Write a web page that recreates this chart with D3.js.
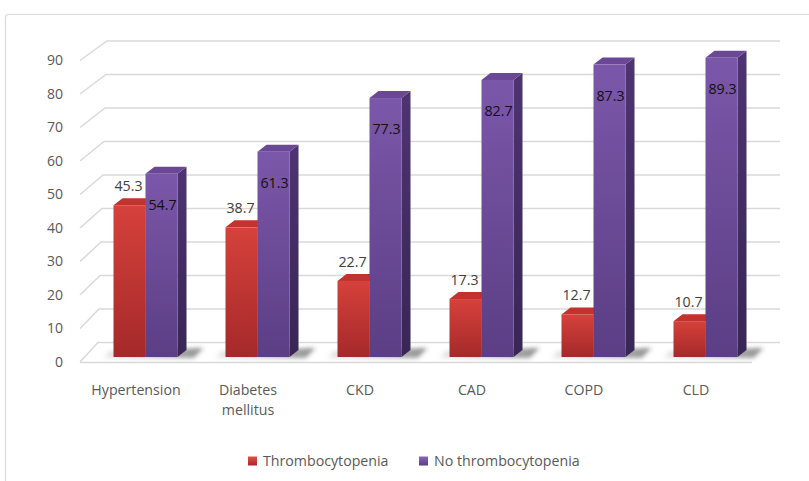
<!DOCTYPE html>
<html>
<head>
<meta charset="utf-8">
<script src="https://cdn.jsdelivr.net/npm/d3@7"></script>
<style>
  html, body { margin: 0; padding: 0; background: #fff; }
  svg { display: block; font-family: "Open Sans", "DejaVu Sans", sans-serif; }
</style>
</head>
<body>
<svg id="chart" width="809" height="481"></svg>
<script>
// Comorbidities by platelet status (%)
const categories = ["Hypertension", "Diabetes mellitus", "CKD", "CAD", "COPD", "CLD"];
const thrombocytopenia = [45.3, 38.7, 22.7, 17.3, 12.7, 10.7];
const noThrombocytopenia = [54.7, 61.3, 77.3, 82.7, 87.3, 89.3];
const yTicks = [0, 10, 20, 30, 40, 50, 60, 70, 80, 90];
const seriesNames = ["Thrombocytopenia", "No thrombocytopenia"];

const svg = d3.select("#chart");
const defs = svg.append("defs");

// outer chart frame
svg.append("rect")
  .attr("x", 5.5).attr("y", 14.5).attr("width", 860).attr("height", 520)
  .attr("rx", 3).attr("fill", "#fff").attr("stroke", "#d9d9d9").attr("stroke-width", 1.2);

// front plane scales; the back wall is drawn offset in depth
const x = d3.scaleBand().domain(categories).range([80, 752]).paddingInner(0).paddingOuter(0);
const y = d3.scaleLinear().domain([0, 90]).range([362, 60.5]);
const wallDepthY = 19.5;
const wallRight = 780;
const backLeft = v => 98 + 9 * v / 90;

// gradients for the 3D faces
function vGrad(id, top, bottom) {
  const g = defs.append("linearGradient").attr("id", id)
    .attr("x1", 0).attr("y1", 0).attr("x2", 0).attr("y2", 1);
  g.append("stop").attr("offset", "0%").attr("stop-color", top);
  g.append("stop").attr("offset", "100%").attr("stop-color", bottom);
}
vGrad("redFront", "#d6413b", "#a5292a");
vGrad("redSide", "#9c2624", "#761b1b");
vGrad("purpleFront", "#7b57a9", "#5b3e84");
vGrad("purpleSide", "#4d3472", "#382654");
vGrad("redKey", "#e0524a", "#a3282a");
vGrad("purpleKey", "#8a66ba", "#5a3d83");

// floor shadow fades out to the left of each pair
const sh = defs.append("linearGradient").attr("id", "shadowFade")
  .attr("x1", 0).attr("y1", 0).attr("x2", 1).attr("y2", 0);
sh.append("stop").attr("offset", "0%").attr("stop-color", "#666").attr("stop-opacity", 0.15);
sh.append("stop").attr("offset", "70%").attr("stop-color", "#444").attr("stop-opacity", 0.45);
sh.append("stop").attr("offset", "100%").attr("stop-color", "#444").attr("stop-opacity", 0.6);

const blur = defs.append("filter").attr("id", "soft")
  .attr("x", "-50%").attr("y", "-100%").attr("width", "200%").attr("height", "300%");
blur.append("feGaussianBlur").attr("stdDeviation", 2);

// back wall gridlines with their receding left edges
const grid = svg.append("g").attr("stroke", "#d9d9d9").attr("stroke-width", 1.5).attr("fill", "none");
yTicks.forEach(v => {
  const yb = y(v) - wallDepthY;
  grid.append("path")
    .attr("d", `M80,${y(v)} L${backLeft(v)},${yb} L${wallRight},${yb}`);
});
// floor front edge
grid.append("line")
  .attr("x1", 80).attr("x2", 752).attr("y1", y(0) + 0.5).attr("y2", y(0) + 0.5);

// value axis labels
const yAxis = svg.append("g")
  .attr("transform", "translate(66,0)")
  .call(d3.axisLeft(y).tickValues(yTicks).tickSize(0).tickPadding(3));
yAxis.select(".domain").remove();
yAxis.selectAll("text")
  .attr("font-family", "Open Sans").attr("font-size", 14).attr("fill", "#595959");

// category labels, wrapped when wider than the band
const catG = svg.append("g").attr("font-size", 14.2).attr("fill", "#595959").attr("text-anchor", "middle");
categories.forEach(c => {
  const cx = x(c) + x.bandwidth() / 2;
  const t = catG.append("text").attr("x", cx).attr("y", 395);
  const words = c.split(" ");
  let line = [], lineNo = 0;
  let ts = t.append("tspan").attr("x", cx).attr("y", 395);
  words.forEach(w => {
    line.push(w);
    ts.text(line.join(" "));
    if (ts.node().getComputedTextLength() > 100 && line.length > 1) {
      line.pop();
      ts.text(line.join(" "));
      line = [w];
      lineNo += 1;
      ts = t.append("tspan").attr("x", cx).attr("y", 395 + lineNo * 19.5).text(w);
    }
  });
});

// bars in 3D
const barW = 32, depthX = 9, depthY = 7, barLift = 5, barShift = 9.5;
const barsG = svg.append("g");

categories.forEach((c, i) => {
  const gc = x(c) + x.bandwidth() / 2 + barShift;
  const base = y(0) - barLift;

  // floor shadow around the pair
  barsG.append("path")
    .attr("d", `M${gc - 42},${base + 1} L${gc - 36},${base - 6} L${gc + 58},${base - 9} L${gc + 48},${base + 1} Z`)
    .attr("fill", "url(#shadowFade)").attr("filter", "url(#soft)");

  const series = [
    { v: thrombocytopenia[i], x0: gc - barW, front: "url(#redFront)", side: "url(#redSide)", top: "#c2332f" },
    { v: noThrombocytopenia[i], x0: gc, front: "url(#purpleFront)", side: "url(#purpleSide)", top: "#6a4896" }
  ];
  series.forEach(s => {
    const top = y(s.v) - barLift;
    const x0 = s.x0, x1 = s.x0 + barW;
    // right side face
    barsG.append("path")
      .attr("d", `M${x1},${top} L${x1 + depthX},${top - depthY} L${x1 + depthX},${base - depthY} L${x1},${base} Z`)
      .attr("fill", s.side);
    // top face
    barsG.append("path")
      .attr("d", `M${x0},${top} L${x0 + depthX},${top - depthY} L${x1 + depthX},${top - depthY} L${x1},${top} Z`)
      .attr("fill", s.top);
    // front face
    barsG.append("rect")
      .attr("x", x0).attr("y", top).attr("width", barW).attr("height", base - top)
      .attr("fill", s.front);
  });
});

// value labels
const lblG = svg.append("g").attr("font-size", 14.2).attr("text-anchor", "middle");
categories.forEach((c, i) => {
  const gc = x(c) + x.bandwidth() / 2 + barShift;
  const tr = thrombocytopenia[i], nt = noThrombocytopenia[i];
  lblG.append("text")
    .attr("x", gc - barW / 2 - 1).attr("y", y(tr) - barLift - 14)
    .attr("fill", "#404040").text(tr.toFixed(1));
  lblG.append("text")
    .attr("x", gc + barW / 2 + 1).attr("y", y(nt) - barLift + 36)
    .attr("fill", "#111").text(nt.toFixed(1));
});

// legend
const legend = svg.append("g").attr("font-size", 14.2).attr("fill", "#595959");
const keys = [
  { name: seriesNames[0], fill: "url(#redKey)", x: 248 },
  { name: seriesNames[1], fill: "url(#purpleKey)", x: 419 }
];
keys.forEach(k => {
  legend.append("rect").attr("x", k.x).attr("y", 456.5).attr("width", 9).attr("height", 9)
    .attr("fill", k.fill);
  legend.append("text").attr("x", k.x + 15).attr("y", 466).text(k.name);
});
</script>
</body>
</html>
